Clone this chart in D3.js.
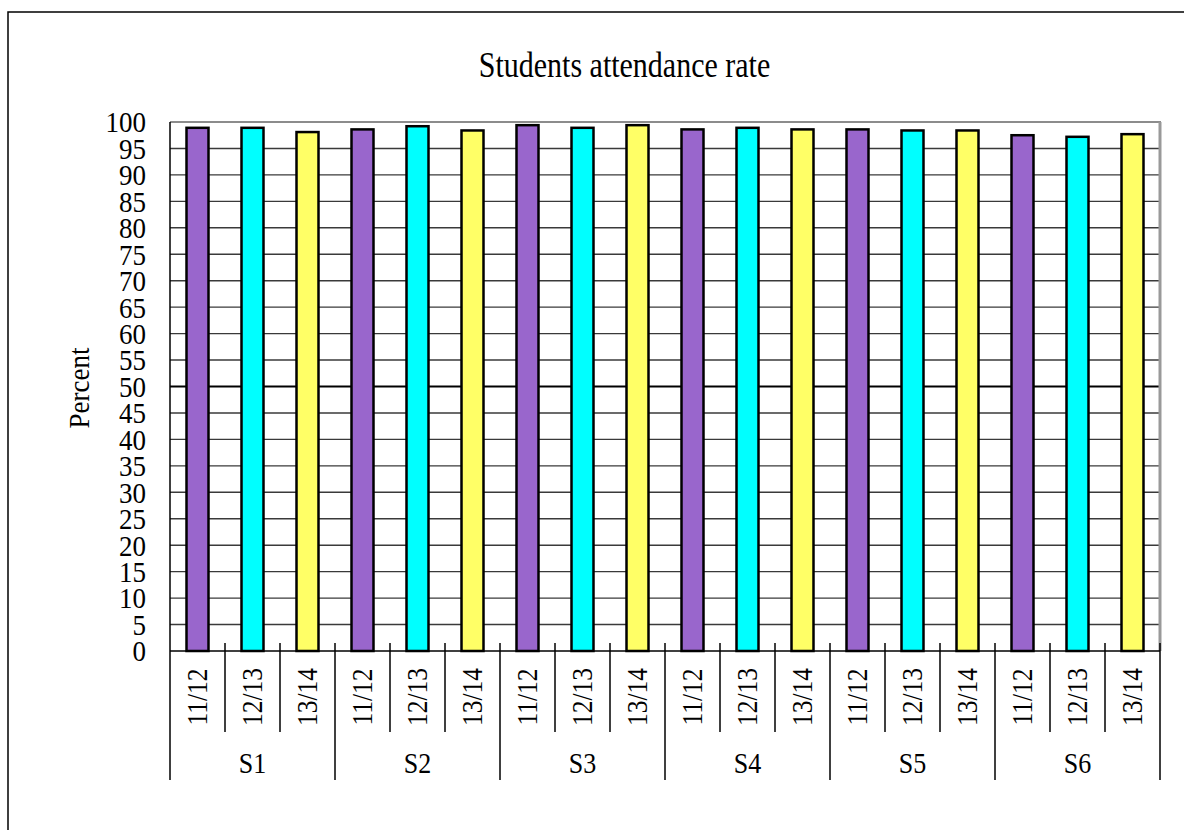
<!DOCTYPE html>
<html><head><meta charset="utf-8">
<script src="https://cdn.jsdelivr.net/npm/d3@7"></script>
<style>body{margin:0;background:#fff;} svg{display:block;}</style>
</head><body>
<svg id="c" width="1184" height="830"></svg>
<script>
const groups = ["S1","S2","S3","S4","S5","S6"];
const years = ["11/12","12/13","13/14"];
const rate1112 = [98.9, 98.6, 99.4, 98.6, 98.6, 97.5];
const rate1213 = [98.9, 99.2, 98.9, 98.9, 98.4, 97.2];
const rate1314 = [98.1, 98.4, 99.4, 98.6, 98.4, 97.7];
const colors = ["#9966CC", "#00FFFF", "#FFFF66"];
const yTicks = d3.range(0, 101, 5);
const title = "Students attendance rate";
const yTitle = "Percent";

const series = [rate1112, rate1213, rate1314];
const svg = d3.select("#c");
const font = "'Liberation Serif', 'DejaVu Serif', serif";
const L = 170, R = 1160, T = 122, B = 651;

svg.append("rect").attr("x", 8).attr("y", 12).attr("width", 1300).attr("height", 1000)
  .attr("fill", "none").attr("stroke", "#000").attr("stroke-width", 1.5);

const x0 = d3.scaleBand().domain(groups).range([L, R]).padding(0);
const x1 = d3.scaleBand().domain(years).range([0, x0.bandwidth()]).padding(0);
const y = d3.scaleLinear().domain([0, 100]).range([B, T]);

// gridlines
svg.append("g").selectAll("line").data(yTicks.filter(d => d > 0 && d < 100)).join("line")
  .attr("x1", L).attr("x2", R)
  .attr("y1", d => y(d)).attr("y2", d => y(d))
  .attr("stroke", d => d === 50 ? "#000" : "#3a3a3a")
  .attr("stroke-width", d => d === 50 ? 2.2 : 1.4);

// plot border top/right
svg.append("line").attr("x1", L).attr("x2", R + 1).attr("y1", y(100)).attr("y2", y(100))
  .attr("stroke", "#8c8c8c").attr("stroke-width", 2);
svg.append("line").attr("x1", R).attr("x2", R).attr("y1", y(100)).attr("y2", B)
  .attr("stroke", "#999").attr("stroke-width", 3);

// bars
const data = [];
groups.forEach((g, gi) => years.forEach((yr, yi) => data.push({g, yr, yi, v: series[yi][gi]})));
const bw = x1.bandwidth() * 0.4;
svg.append("g").selectAll("rect").data(data).join("rect")
  .attr("x", d => x0(d.g) + x1(d.yr) + x1.bandwidth() / 2 - bw / 2)
  .attr("width", bw)
  .attr("y", d => y(d.v))
  .attr("height", d => y(0) - y(d.v))
  .attr("fill", d => colors[d.yi])
  .attr("stroke", "#000").attr("stroke-width", 2.5);

// axes lines
svg.append("line").attr("x1", L).attr("x2", L).attr("y1", y(100)).attr("y2", 780)
  .attr("stroke", "#000").attr("stroke-width", 1.5);
svg.append("line").attr("x1", L).attr("x2", R).attr("y1", B).attr("y2", B)
  .attr("stroke", "#000").attr("stroke-width", 1.5);

// separators
const sep = svg.append("g").attr("stroke", "#000").attr("stroke-width", 1.5);
groups.forEach((g, gi) => {
  years.forEach((yr, yi) => {
    if (yi > 0) {
      const xx = x0(g) + x1(yr);
      sep.append("line").attr("x1", xx).attr("x2", xx).attr("y1", B - 8).attr("y2", 732);
    }
  });
  const xe = x0(g) + x0.bandwidth();
  sep.append("line").attr("x1", xe).attr("x2", xe).attr("y1", B - 8).attr("y2", 780);
});

// y tick labels
svg.append("g").selectAll("text").data(yTicks).join("text")
  .attr("transform", d => `translate(146,${y(d)}) scale(1,1.1)`)
  .attr("dy", "0.35em")
  .attr("text-anchor", "end")
  .attr("font-family", font).attr("font-size", 27).attr("fill", "#000")
  .text(d => d);

// category labels
svg.append("g").selectAll("text").data(data).join("text")
  .attr("transform", d => `translate(${x0(d.g) + x1(d.yr) + x1.bandwidth() / 2 + 9},697) rotate(-90) scale(1,1.15)`)
  .attr("text-anchor", "middle")
  .attr("font-family", font).attr("font-size", 25.5).attr("fill", "#000")
  .text(d => d.yr);

// group labels
svg.append("g").selectAll("text").data(groups).join("text")
  .attr("transform", d => `translate(${x0(d) + x0.bandwidth() / 2},773) scale(1,1.1)`)
  .attr("text-anchor", "middle")
  .attr("font-family", font).attr("font-size", 26).attr("fill", "#000")
  .text(d => d);

// title
svg.append("text").attr("transform", "translate(624.5,77) scale(1,1.2)")
  .attr("text-anchor", "middle")
  .attr("font-family", font).attr("font-size", 30).attr("fill", "#000")
  .text(title);

// y title
svg.append("text").attr("transform", "translate(89,388) rotate(-90) scale(1,1.1)")
  .attr("text-anchor", "middle")
  .attr("font-family", font).attr("font-size", 27).attr("fill", "#000")
  .text(yTitle);
</script>
</body></html>
